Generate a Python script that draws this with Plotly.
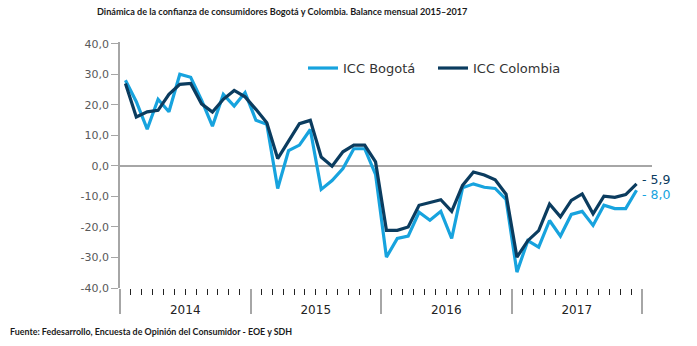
import plotly.graph_objects as go

years = ["2014", "2015", "2016", "2017"]
months_per_year = 12

icc_bogota = [
    28.0, 21.0, 12.0, 21.8, 17.7, 30.0, 29.0, 21.5, 13.0, 23.4, 19.6, 24.0,
    14.9, 13.6, -7.4, 5.0, 6.8, 11.9, -7.7, -4.8, -0.9, 5.6, 5.6, -2.8,
    -29.9, -23.8, -23.0, -15.2, -17.8, -14.9, -23.8, -7.2, -5.9, -7.0, -7.4, -11.0,
    -34.8, -24.5, -26.6, -17.9, -23.0, -15.9, -14.9, -19.5, -12.9, -14.0, -14.0, -8.0,
]
icc_colombia = [
    27.0, 16.0, 17.7, 18.2, 23.4, 26.7, 27.0, 20.3, 17.6, 21.8, 24.7, 22.6,
    18.5, 14.1, 2.4, 8.1, 13.8, 14.9, 2.9, -0.1, 4.6, 6.8, 6.8, 1.3,
    -21.1, -21.1, -20.0, -12.9, -12.1, -11.1, -14.9, -6.4, -2.0, -3.0, -4.6, -9.3,
    -29.9, -24.5, -21.2, -12.5, -16.7, -11.3, -9.2, -15.7, -9.9, -10.3, -9.4, -5.9,
]
series_names = ["ICC Bogotá", "ICC Colombia"]
y_ticks = [-40, -30, -20, -10, 0, 10, 20, 30, 40]

title_text = "Dinámica de la confianza de consumidores Bogotá y Colombia. Balance mensual 2015–2017"
source_text = "Fuente: Fedesarrollo, Encuesta de Opinión del Consumidor - EOE y SDH"

light_blue = "#17A3DE"
navy = "#0B3C5F"
axis_gray = "#A6A6A6"

n = len(icc_bogota)
x = list(range(n))

fig = go.Figure()
fig.add_trace(go.Scatter(x=x, y=icc_bogota, mode="lines", name=series_names[0],
                         line=dict(color=light_blue, width=3.2)))
fig.add_trace(go.Scatter(x=x, y=icc_colombia, mode="lines", name=series_names[1],
                         line=dict(color=navy, width=3.2)))
# invisible trace to drive the year-label axis
fig.add_trace(go.Scatter(x=[x[0], x[-1]], y=[0, 0], xaxis="x2", mode="lines",
                         line=dict(width=0), showlegend=False, hoverinfo="skip"))

boundaries = [k * months_per_year - 0.5 for k in range(len(years) + 1)]
minor_vals = [b + m for b in boundaries[:-1] for m in range(1, months_per_year)]
centers = [k * months_per_year + (months_per_year - 1) / 2 for k in range(len(years))]

xrange_ = [-0.5, 48.42]
fig.update_layout(
    width=697, height=346,
    margin=dict(l=120, r=45, t=42, b=58),
    paper_bgcolor="white", plot_bgcolor="white",
    font=dict(family="DejaVu Sans", color="#333333"),
    showlegend=True,
    legend=dict(orientation="h", x=0.344, xanchor="left", y=0.894, yanchor="middle",
                font=dict(family="DejaVu Sans", size=13, color="#333333"),
                bgcolor="rgba(0,0,0,0)", itemwidth=30, entrywidth=85),
    xaxis=dict(range=xrange_, showgrid=False, zeroline=False, showline=False,
               tickmode="array", tickvals=boundaries, ticktext=[""] * len(boundaries),
               ticks="outside", ticklen=25, tickcolor=axis_gray, tickwidth=1.5,
               minor=dict(tickmode="array", tickvals=minor_vals, ticks="outside",
                          ticklen=6, tickcolor="#222222", tickwidth=1.2)),
    xaxis2=dict(range=xrange_, overlaying="x", anchor="y", side="bottom",
                showgrid=False, zeroline=False, showline=False,
                tickmode="array", tickvals=centers, ticktext=years,
                ticks="outside", ticklen=11, tickcolor="rgba(0,0,0,0)",
                tickfont=dict(family="DejaVu Sans", size=12, color="#222222")),
    yaxis=dict(range=[-40, 40.56], showgrid=False,
               zeroline=True, zerolinecolor=axis_gray, zerolinewidth=1.5,
               showline=True, linecolor=axis_gray, linewidth=1.5,
               tickmode="array", tickvals=y_ticks,
               ticktext=[f"{v:.1f}".replace(".", ",") for v in y_ticks],
               ticks="outside", ticklen=7, tickcolor=axis_gray, tickwidth=1.2,
               tickfont=dict(family="DejaVu Sans", size=11, color="#595959")),
)

fig.add_annotation(text=f"<b>{title_text}</b>", xref="paper", yref="paper",
                   x=(282 - 120) / 532, y=1 + (42 - 11) / 246, xanchor="center", yanchor="middle",
                   showarrow=False, font=dict(family="Lato", size=9.1, color="#1a1a1a"))
fig.add_annotation(text=f"<b>{source_text}</b>", xref="paper", yref="paper",
                   x=(8 - 120) / 532, y=-(331 - 288) / 246, xanchor="left", yanchor="middle",
                   showarrow=False, font=dict(family="Lato", size=8.9, color="#1a1a1a"))

fig.add_annotation(text="- " + f"{abs(icc_colombia[-1]):.1f}".replace(".", ","),
                   x=47.3, y=-4.6, xref="x", yref="y", xanchor="left", yanchor="middle",
                   showarrow=False, font=dict(family="DejaVu Sans", size=12.5, color=navy))
fig.add_annotation(text="- " + f"{abs(icc_bogota[-1]):.1f}".replace(".", ","),
                   x=47.3, y=-9.3, xref="x", yref="y", xanchor="left", yanchor="middle",
                   showarrow=False, font=dict(family="DejaVu Sans", size=12.5, color=light_blue))

fig.write_html("out.html")
